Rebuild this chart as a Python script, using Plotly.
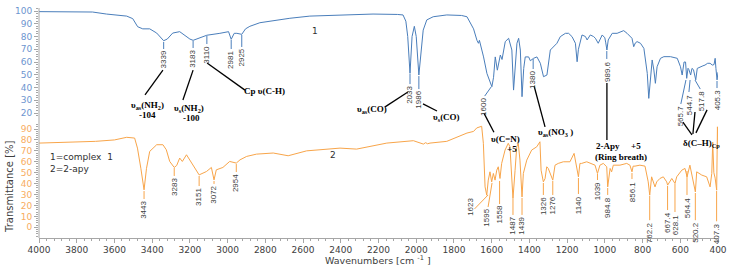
import plotly.graph_objects as go

# ---------------- data ----------------
blue_wn = [4000, 3900, 3800, 3716, 3642, 3580, 3535, 3503, 3477, 3450,
           3413, 3376, 3350, 3339, 3320, 3291, 3254, 3227, 3200, 3183,
           3148, 3110, 3041, 2995, 2981, 2965, 2951, 2925, 2905, 2882,
           2829, 2670, 2564, 2404, 2229, 2100, 2070, 2055, 2045, 2033,
           2022, 2010, 2000, 1986, 1970, 1963, 1944, 1910, 1838, 1760,
           1731, 1712, 1696, 1678, 1670, 1665, 1655, 1643, 1625, 1608,
           1599, 1590, 1581, 1570, 1554, 1545, 1528, 1510, 1493, 1484,
           1475, 1466, 1457, 1448, 1439, 1430, 1422, 1404, 1395, 1378,
           1360, 1342, 1325, 1307, 1289, 1271, 1254, 1236, 1209, 1192,
           1174, 1156, 1150, 1147, 1140, 1130, 1121, 1103, 1094, 1077,
           1060, 1050, 1035, 1014, 1000, 995, 989, 982, 961, 935,
           900, 882, 865, 856, 847, 838, 829, 811, 793, 775,
           767, 758, 749, 740, 732, 723, 705, 687, 652, 616,
           599, 590, 580, 572, 566, 559, 554, 545, 538, 530,
           518, 510, 495, 480, 469, 455, 442, 430, 421, 415,
           411, 405, 400]
blue_t = [99.5, 99.6, 99.3, 99.2, 97.6, 97.0, 96.0, 94.0, 87.7, 86.0,
          86.0, 82.7, 78.0, 76.7, 78.0, 82.7, 83.8, 81.0, 78.0, 77.0,
          79.0, 81.0, 82.5, 83.8, 77.8, 82.5, 82.5, 81.7, 86.0, 88.0,
          90.8, 94.3, 96.0, 97.0, 97.6, 97.3, 96.9, 92.0, 80.0, 51.1,
          80.0, 88.0, 80.0, 49.8, 75.0, 85.0, 93.0, 95.5, 96.9, 96.5,
          95.5, 90.0, 86.0, 77.0, 74.7, 77.0, 72.0, 64.0, 51.0, 43.3,
          40.6, 48.0, 64.0, 53.6, 65.5, 62.0, 76.0, 78.6, 69.4, 38.0,
          60.0, 74.7, 78.6, 69.4, 32.8, 55.0, 64.0, 64.0, 61.0, 62.9,
          64.0, 59.0, 48.5, 49.8, 69.4, 72.0, 74.7, 79.9, 82.5, 82.5,
          79.9, 74.7, 68.0, 60.2, 70.0, 76.0, 81.2, 80.0, 77.3, 81.2,
          80.0, 78.6, 74.7, 81.2, 79.0, 75.0, 69.4, 77.3, 82.5, 82.5,
          84.6, 82.5, 80.0, 78.6, 72.0, 75.0, 76.0, 74.7, 70.7, 51.1,
          31.5, 45.9, 61.6, 53.7, 43.3, 56.3, 62.9, 64.2, 64.2, 62.9,
          56.3, 49.8, 60.0, 60.0, 47.2, 55.1, 54.0, 49.8, 55.0, 54.0,
          46.0, 55.0, 56.3, 57.0, 57.6, 59.0, 59.0, 57.6, 58.0, 62.9,
          55.0, 46.0, 52.0]

orange_wn = [4000, 3900, 3800, 3700, 3600, 3535, 3493, 3478, 3460, 3443,
             3430, 3413, 3376, 3343, 3325, 3307, 3283, 3270, 3254, 3240,
             3218, 3192, 3151, 3112, 3086, 3072, 3060, 3025, 2989, 2954,
             2934, 2899, 2847, 2758, 2679, 2581, 2404, 2316, 2156, 2015,
             1990, 1975, 1962, 1950, 1940, 1927, 1838, 1731, 1696, 1679,
             1653, 1644, 1635, 1626, 1618, 1609, 1600, 1591, 1582, 1573,
             1565, 1556, 1547, 1529, 1512, 1503, 1494, 1487, 1476, 1467,
             1459, 1450, 1439, 1432, 1414, 1388, 1361, 1344, 1338, 1326,
             1317, 1308, 1300, 1276, 1264, 1247, 1220, 1185, 1163, 1140,
             1132, 1123, 1096, 1070, 1052, 1039, 1026, 1008, 990, 984.8,
             972, 964, 955, 920, 884, 867, 856, 850, 840, 814,
             787, 770, 762, 752, 743, 734, 725, 708, 690, 672,
             667, 645, 628, 619, 592, 575, 564, 554, 549, 520,
             513, 486, 460, 442, 433, 428, 422, 415, 407, 403,
             400]
orange_t = [77.1, 77.5, 78.0, 78.7, 80.0, 82.4, 81.7, 72.5, 54.0, 34.3,
            54.0, 69.5, 75.6, 75.6, 71.0, 60.3, 54.8, 56.6, 63.4, 60.3,
            66.4, 58.8, 48.0, 51.1, 54.8, 43.4, 52.6, 54.8, 60.3, 58.8,
            61.8, 64.9, 67.0, 68.0, 65.5, 70.0, 72.5, 71.6, 77.1, 79.3,
            78.0, 77.0, 76.2, 77.5, 76.5, 77.1, 78.7, 86.3, 87.8, 91.0,
            92.5, 76.9, 37.0, 29.4, 43.2, 50.8, 41.6, 49.3, 43.2, 52.3,
            55.4, 44.7, 58.5, 70.7, 76.9, 73.7, 52.3, 26.3, 52.0, 73.7,
            76.9, 61.5, 27.8, 49.3, 61.5, 70.7, 73.7, 78.3, 52.3, 41.6,
            44.5, 55.4, 53.9, 43.2, 56.9, 58.5, 60.0, 60.0, 67.7, 46.2,
            58.5, 58.5, 60.0, 58.5, 56.9, 49.3, 56.9, 58.5, 55.4, 37.0,
            53.9, 50.8, 56.9, 56.9, 58.5, 56.9, 50.8, 56.0, 56.0, 56.9,
            56.0, 41.6, 29.4, 46.2, 41.6, 37.0, 41.6, 44.7, 46.2, 41.6,
            38.6, 44.7, 40.1, 46.2, 52.3, 53.9, 46.2, 55.4, 56.9, 32.4,
            50.8, 47.8, 46.2, 37.0, 49.3, 78.0, 50.0, 45.0, 34.0, 92.0,
            75.0]

x_ticks = list(range(4000, 399, -200))
blue_ticks = list(range(20, 101, 10))
orange_ticks = list(range(0, 91, 10))

# peak labels: (text, x0, y0, x1, y1, label_x, label_y)
blue_labels = [
    ("3339", 3339, 75.7, 3339, 70.2, 3339, 69.6),
    ("3183", 3183, 76.5, 3183, 71.0, 3183, 70.4),
    ("3110", 3110, 80.4, 3110, 74.1, 3110, 73.5),
    ("2981", 2981, 77.3, 2981, 70.2, 2981, 69.6),
    ("2925", 2925, 81.2, 2925, 71.8, 2925, 71.2),
    ("2033", 2033, 50.6, 2033, 42.7, 2033, 42.1),
    ("1986", 1986, 49.0, 1986, 38.8, 1986, 38.2),
    ("1600", 1603, 40.4, 1637, 33.3, 1640, 32.7),
    ("1380", 1380, 62.4, 1380, 54.5, 1380, 53.9),
    ("989.6", 989.6, 68.6, 989.6, 62.4, 989.6, 61.8),
    ("565.7", 570, 45.9, 597, 27.1, 601, 26.5),
    ("544.7", 548, 45.9, 554, 36.5, 554, 35.9),
    ("517.8", 522, 45.9, 494, 38.8, 490, 38.2),
    ("405.3", 405.3, 45.1, 405.3, 39.6, 405.3, 39.0),
]
orange_labels = [
    ("3443", 3443, 33.2, 3443, 25.9, 3443, 25.2),
    ("3283", 3283, 54.3, 3283, 47.0, 3283, 46.3),
    ("3151", 3151, 47.0, 3151, 37.8, 3151, 37.1),
    ("3072", 3072, 42.4, 3072, 39.7, 3072, 39.0),
    ("2954", 2954, 57.9, 2954, 50.6, 2954, 49.9),
    ("1623", 1619, 29.6, 1691, 16.8, 1716, 27.7),
    ("1595", 1598, 40.6, 1619, 18.6, 1625, 17.9),
    ("1558", 1558, 42.4, 1558, 21.3, 1558, 20.6),
    ("1487", 1487, 25.9, 1487, 11.3, 1487, 10.6),
    ("1439", 1439, 26.9, 1439, 11.3, 1439, 10.6),
    ("1326", 1326, 40.6, 1326, 29.6, 1326, 28.9),
    ("1276", 1276, 42.4, 1276, 29.6, 1276, 28.9),
    ("1140", 1140, 45.1, 1140, 30.5, 1140, 29.8),
    ("1039", 1039, 48.8, 1039, 43.3, 1039, 42.6),
    ("984.8", 984.8, 36.0, 984.8, 29.6, 984.8, 28.9),
    ("856.1", 856.1, 49.7, 856.1, 44.2, 856.1, 43.5),
    ("762.2", 762.2, 28.7, 762.2, 6.5, 762.2, 5.8),
    ("667.4", 667.4, 37.8, 667.4, 15.8, 667.4, 15.1),
    ("628.1", 628.1, 39.7, 628.1, 14.0, 628.1, 13.3),
    ("564.4", 564.4, 51.6, 564.4, 29.6, 564.4, 28.9),
    ("520.2", 520.2, 31.4, 520.2, 6.5, 520.2, 5.8),
    ("407.3", 407.3, 33.2, 407.3, 5.5, 407.3, 4.8),
]

# assignment texts: (text, x, paper_y)
assign_texts = [
    ("υ<sub>as</sub>(NH<sub>2</sub>)", 3427, 0.578),
    ("-104", 3427, 0.535),
    ("υ<sub>s</sub>(NH<sub>2</sub>)", 3205, 0.565),
    ("-100", 3189, 0.522),
    ("Cp υ(C-H)", 2802, 0.639),
    ("υ<sub>as</sub>(CO)", 2234, 0.557),
    ("υ<sub>s</sub>(CO)", 1842, 0.526),
    ("υ(C=N)", 1529, 0.430),
    ("+5", 1490, 0.385),
    ("υ<sub>as</sub>(NO<sub>3</sub> )", 1259, 0.457),
    ("2-Apy", 983, 0.400),
    ("+5", 835, 0.400),
    ("(Ring breath)", 914, 0.352),
    ("δ(C–H)<sub>Cp</sub>", 490, 0.413),
]
# leader lines: (x0, y0, x1, y1) in (wavenumber, paper)
assign_lines = [
    (3343, 0.730, 3438, 0.622),
    (3183, 0.730, 3237, 0.600),
    (3109, 0.761, 2908, 0.643),
    (2044, 0.635, 2165, 0.570),
    (1964, 0.583, 1890, 0.552),
    (1641, 0.543, 1588, 0.460),
    (1375, 0.661, 1317, 0.483),
    (989, 0.674, 989, 0.426),
    (586, 0.504, 538, 0.448),
    (522, 0.548, 533, 0.452),
    (458, 0.557, 517, 0.457),
]

BLUE = "#4a7ebb"
ORANGE = "#f8a54a"
BLUE_TXT = "#6d95d0"
ORANGE_TXT = "#f8ad62"
GREY = "#a6a6a6"
DARK = "#404040"

fig = go.Figure()
fig.add_trace(go.Scatter(x=blue_wn, y=blue_t, mode="lines", yaxis="y",
                         line=dict(color=BLUE, width=1), showlegend=False,
                         hoverinfo="skip"))
fig.add_trace(go.Scatter(x=orange_wn, y=orange_t, mode="lines", yaxis="y2",
                         line=dict(color=ORANGE, width=1), showlegend=False,
                         hoverinfo="skip"))

shapes = []
annotations = []

shapes.append(dict(type="line", xref="paper", yref="paper", x0=0, x1=0,
                   y0=0, y1=1, line=dict(color=GREY, width=1)))

for (t, x0, y0, x1, y1, lx, ly) in blue_labels:
    shapes.append(dict(type="line", xref="x", yref="y", x0=x0, y0=y0,
                       x1=x1, y1=y1, line=dict(color=BLUE, width=1)))
    annotations.append(dict(x=lx, y=ly, xref="x", yref="y", text=t,
                            textangle=-90, showarrow=False, xanchor="center",
                            yanchor="top", borderpad=0,
                            font=dict(family="Liberation Sans", size=8,
                                      color=DARK)))
for (t, x0, y0, x1, y1, lx, ly) in orange_labels:
    shapes.append(dict(type="line", xref="x", yref="y2", x0=x0, y0=y0,
                       x1=x1, y1=y1, line=dict(color=ORANGE, width=1)))
    annotations.append(dict(x=lx, y=ly, xref="x", yref="y2", text=t,
                            textangle=-90, showarrow=False, xanchor="center",
                            yanchor="top", borderpad=0,
                            font=dict(family="Liberation Sans", size=8,
                                      color=DARK)))

for (x0, y0, x1, y1) in assign_lines:
    shapes.append(dict(type="line", xref="x", yref="paper", x0=x0, y0=y0,
                       x1=x1, y1=y1, line=dict(color="black", width=1.3)))
for (t, x, y) in assign_texts:
    annotations.append(dict(x=x, y=y, xref="x", yref="paper",
                            text="<b>" + t + "</b>", showarrow=False,
                            xanchor="center", yanchor="middle", borderpad=0,
                            font=dict(family="Liberation Serif", size=9,
                                      color="black")))

# curve ids and legend text
annotations.append(dict(x=2537, y=0.930, xref="x", yref="paper", text="1",
                        showarrow=False, font=dict(family="DejaVu Sans", size=9, color="#303030")))
annotations.append(dict(x=2441, y=0.361, xref="x", yref="paper", text="2",
                        showarrow=False, font=dict(family="DejaVu Sans", size=9, color="#303030")))
annotations.append(dict(x=3952, y=0.352, xref="x", yref="paper", text="1=complex  1",
                        showarrow=False, xanchor="left", yanchor="middle",
                        font=dict(family="DejaVu Sans", size=9, color="#303030")))
annotations.append(dict(x=3952, y=0.300, xref="x", yref="paper", text="2=2-apy",
                        showarrow=False, xanchor="left", yanchor="middle",
                        font=dict(family="DejaVu Sans", size=9, color="#303030")))
# axis titles
annotations.append(dict(x=0.499, y=-0.096, xref="paper", yref="paper",
                        text="Wavenumbers [cm <sup>-1</sup> ]", showarrow=False,
                        xanchor="center", yanchor="middle", borderpad=0,
                        font=dict(family="DejaVu Sans", size=9.5, color=DARK)))
annotations.append(dict(x=-0.0427, y=0.222, xref="paper", yref="paper",
                        text="Transmittance [%]", showarrow=False, textangle=-90,
                        xanchor="center", yanchor="middle",
                        font=dict(family="DejaVu Sans", size=10, color=DARK)))

fig.update_layout(
    template="none",
    width=733, height=268,
    margin=dict(l=39, r=15, t=8, b=30, pad=0, autoexpand=False),
    paper_bgcolor="white", plot_bgcolor="white",
    xaxis=dict(range=[4000, 400], domain=[0, 1], anchor="y2", automargin=False,
               tickvals=x_ticks, ticktext=[str(v) for v in x_ticks],
               ticks="outside", ticklen=4, tickcolor=GREY, showline=True,
               linecolor=GREY, linewidth=1, showgrid=False, zeroline=False,
               ticklabelstandoff=-1,
               tickfont=dict(family="DejaVu Sans", size=9, color=DARK),
               minor=dict(ticks="outside", ticklen=2, dtick=40, tickcolor=GREY)),
    yaxis=dict(domain=[0.53, 1.0], range=[17.6, 102.35], anchor="x", automargin=False,
               tickvals=blue_ticks, ticks="outside", ticklen=4, tickcolor=GREY,
               showline=False, showgrid=False, zeroline=False,
               tickfont=dict(family="DejaVu Sans", size=9, color=BLUE_TXT),
               minor=dict(ticks="outside", ticklen=2, dtick=2, tickcolor=GREY)),
    yaxis2=dict(domain=[0.0, 0.5], range=[-9.8, 95.5], anchor="x", automargin=False,
                tickvals=orange_ticks, ticks="outside", ticklen=4, tickcolor=GREY,
                showline=False, showgrid=False, zeroline=False,
                tickfont=dict(family="DejaVu Sans", size=9, color=ORANGE_TXT),
                minor=dict(ticks="outside", ticklen=2, dtick=2, tickcolor=GREY)),
    shapes=shapes,
    annotations=annotations,
)

fig.write_html(
    "out.html",
    config={"displayModeBar": False},
    post_script="document.body.style.margin='0';document.body.style.padding='0';"
                "document.body.style.overflow='hidden';",
)
